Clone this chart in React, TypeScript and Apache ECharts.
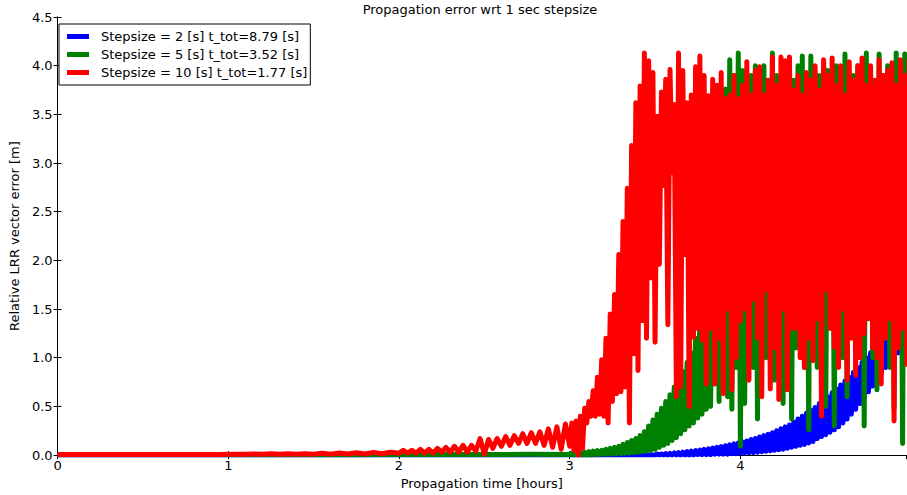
import React, { useEffect, useRef } from "react";
import * as echarts from "echarts";

const TITLE = "Propagation error wrt 1 sec stepsize";
const X_NAME = "Propagation time [hours]";
const Y_NAME = "Relative LRR vector error [m]";
const SERIES_NAMES = [
  "Stepsize = 2 [s] t_tot=8.79 [s]",
  "Stepsize = 5 [s] t_tot=3.52 [s]",
  "Stepsize = 10 [s] t_tot=1.77 [s]",
];
const COLORS = ["#0000ff", "#008000", "#ff0000"];

const X_MIN = 0;
const X_MAX = 4.97;
const X_TICK = 1;
const Y_MIN = 0;
const Y_MAX = 4.5;
const Y_TICK = 0.5;

// ---- Stepsize = 10 s (red) ----
const RED_EARLY_START = 0;
const RED_EARLY_STEP = 0.05;
const redEarly = [
  0.005, 0.005, 0.005, 0.005, 0.005, 0.005, 0.005, 0.005, 0.005, 0.005,
  0.005, 0.006, 0.005, 0.006, 0.005, 0.006, 0.005, 0.007, 0.006, 0.007,
  0.008, 0.01, 0.008, 0.012, 0.009, 0.013, 0.009, 0.014, 0.01, 0.015,
  0.01, 0.02, 0.01, 0.022, 0.012, 0.025, 0.012, 0.028, 0.014, 0.03,
];
const RED_MID_START = 2.0;
const RED_MID_STEP = 0.025;
const redMid = [
  0.02, 0.05, 0.02, 0.05, 0.02, 0.06, 0.02, 0.06, 0.02, 0.07,
  0.03, 0.08, 0.03, 0.09, 0.03, 0.1, 0.03, 0.1, 0.04, 0.17,
  0.01, 0.16, 0.07, 0.17, 0.09, 0.19, 0.1, 0.2, 0.12, 0.22,
  0.12, 0.23, 0.12, 0.24, 0.1, 0.27, 0.08, 0.29, 0.06, 0.32,
];
const RED_LATE_START = 3.0;
const RED_LATE_STEP = 0.0125;
const redLate = [
  0.09, 0.33, 0.05, 0.35, 0.0, 0.4, 0.07, 0.48, 0.33, 0.55,
  0.4, 0.66, 0.4, 0.8, 0.42, 0.98, 0.4, 1.2, 0.33, 1.45,
  0.55, 1.65, 0.63, 2.06, 0.65, 2.4, 0.7, 2.74, 0.33, 3.18,
  1.04, 3.62, 0.87, 3.79, 1.38, 4.13, 1.2, 4.05, 1.82, 3.93,
  1.16, 3.48, 1.96, 3.73, 2.77, 3.86, 1.34, 3.96, 2.9, 3.6,
  0.6, 4.13, 0.7, 3.95, 2.06, 3.62, 0.5, 3.7, 1.21, 3.99,
  1.3, 4.1, 1.18, 3.9, 0.73, 3.69, 1.3, 3.86, 0.73, 3.8,
  1.2, 3.93, 0.63, 3.66, 1.5, 3.7, 0.67, 3.9, 1.0, 3.66,
  1.38, 3.8, 1.5, 4.04, 0.77, 3.7, 1.6, 3.95, 1.2, 3.99,
  0.6, 3.7, 1.7, 3.85, 0.68, 4.09, 1.1, 3.8, 0.57, 4.09,
  1.5, 4.05, 0.67, 4.09, 1.3, 3.75, 1.3, 3.9, 1.0, 3.7,
  0.9, 3.93, 1.2, 3.85, 0.97, 4.0, 1.4, 3.75, 0.4, 4.06,
  1.7, 3.9, 1.3, 4.08, 1.11, 3.8, 0.9, 4.0, 1.5, 3.7,
  0.77, 4.04, 1.2, 3.85, 0.82, 4.0, 1.0, 4.08, 1.25, 3.8,
  1.4, 4.0, 1.1, 3.85, 1.0, 4.06, 0.73, 3.9, 1.2, 3.95,
  1.4, 4.03, 0.35, 3.8, 1.1, 4.06, 1.3, 3.9, 0.93, 4.06,
];

// ---- Stepsize = 5 s (green) ----
const GREEN_EARLY_START = 0;
const GREEN_EARLY_STEP = 0.25;
const greenEarly = [0.003, 0.003, 0.003, 0.003, 0.003, 0.004, 0.004, 0.004, 0.005, 0.005, 0.006, 0.008];
const GREEN_START = 3.0;
const GREEN_STEP = 0.0125;
const greenMain = [
  0.005, 0.02, 0.0, 0.02, 0.0, 0.025, 0.0, 0.03,
  0.0, 0.035, 0.0, 0.04, 0.005, 0.045, 0.005, 0.05,
  0.01, 0.06, 0.01, 0.07, 0.01, 0.08, 0.015, 0.09,
  0.015, 0.11, 0.02, 0.13, 0.02, 0.15, 0.025, 0.17,
  0.03, 0.2, 0.035, 0.24, 0.04, 0.3, 0.05, 0.36,
  0.06, 0.42, 0.08, 0.48, 0.1, 0.55, 0.12, 0.62,
  0.15, 0.7, 0.18, 0.78, 0.22, 0.86, 0.26, 0.95,
  0.3, 1.05, 0.33, 1.2, 0.38, 1.4, 0.42, 1.65,
  0.47, 2.77, 0.5, 2.0, 0.73, 3.0, 0.55, 3.3,
  0.8, 3.76, 0.6, 4.06, 0.47, 3.9, 0.9, 4.13,
  0.09, 3.95, 0.53, 3.6, 1.2, 3.9, 0.9, 4.0,
  0.37, 3.8, 1.5, 4.0, 1.0, 3.85, 1.2, 4.13,
  0.77, 3.9, 1.4, 3.8, 0.53, 3.95, 1.8, 4.0,
  0.37, 3.85, 1.1, 4.0, 1.5, 4.1, 0.9, 3.9,
  0.26, 4.1, 1.6, 3.8, 0.9, 3.9, 1.3, 4.0,
  0.5, 3.95, 1.7, 3.85, 0.3, 4.0, 1.2, 3.9,
  1.0, 4.12, 0.6, 3.8, 1.4, 3.9, 1.1, 4.0,
  1.0, 3.85, 0.3, 4.13, 1.5, 3.9, 1.0, 3.8,
  0.67, 4.12, 1.6, 3.9, 1.2, 4.0, 0.9, 3.85,
  0.48, 4.13, 1.3, 3.9, 0.12, 4.12, 1.4, 4.1,
];

// ---- Stepsize = 2 s (blue) ----
const BLUE_EARLY_START = 0;
const BLUE_EARLY_STEP = 0.25;
const blueEarly = [0.002, 0.002, 0.002, 0.002, 0.002, 0.002, 0.002, 0.002, 0.002, 0.002, 0.002, 0.002, 0.002, 0.002];
const BLUE_START = 3.5;
const BLUE_STEP = 0.0125;
const blueMain = [
  0.0, 0.01, 0.0, 0.012, 0.0, 0.015, 0.0, 0.018,
  0.0, 0.022, 0.0, 0.026, 0.0, 0.03, 0.0, 0.035,
  0.0, 0.04, 0.0, 0.046, 0.005, 0.052, 0.005, 0.058,
  0.005, 0.065, 0.005, 0.072, 0.01, 0.08, 0.01, 0.088,
  0.01, 0.096, 0.01, 0.105, 0.015, 0.115, 0.015, 0.125,
  0.02, 0.135, 0.02, 0.145, 0.025, 0.16, 0.025, 0.17,
  0.03, 0.185, 0.035, 0.2, 0.04, 0.215, 0.045, 0.23,
  0.05, 0.25, 0.055, 0.27, 0.06, 0.29, 0.07, 0.31,
  0.08, 0.34, 0.09, 0.37, 0.1, 0.4, 0.11, 0.43,
  0.125, 0.46, 0.14, 0.49, 0.17, 0.53, 0.19, 0.56,
  0.21, 0.6, 0.235, 0.64, 0.26, 0.68, 0.29, 0.72,
  0.33, 0.76, 0.37, 0.8, 0.42, 0.85, 0.47, 0.9,
  0.53, 0.95, 0.59, 1.0, 0.65, 1.05, 0.71, 1.1,
  0.78, 1.15, 0.84, 1.2, 0.9, 1.25, 0.95, 1.3,
  1.0, 1.35, 1.05, 1.4, 1.1, 1.45, 1.15,
];

function samples(start: number, step: number, values: number[]) {
  return values.map((v, i) => [Number((start + i * step).toFixed(5)), v]);
}

const FONT = "DejaVu Sans";

export default function App() {
  const ref = useRef<HTMLDivElement>(null);
  useEffect(() => {
    if (!ref.current) return;
    const chart = echarts.init(ref.current, undefined, { renderer: "svg" });
    const seriesData = [
      samples(BLUE_EARLY_START, BLUE_EARLY_STEP, blueEarly).concat(samples(BLUE_START, BLUE_STEP, blueMain)),
      samples(GREEN_EARLY_START, GREEN_EARLY_STEP, greenEarly).concat(samples(GREEN_START, GREEN_STEP, greenMain)),
      samples(RED_EARLY_START, RED_EARLY_STEP, redEarly)
        .concat(samples(RED_MID_START, RED_MID_STEP, redMid))
        .concat(samples(RED_LATE_START, RED_LATE_STEP, redLate)),
    ];
    const axisCommon = {
      axisLine: { show: true, lineStyle: { color: "#000", width: 1 } },
      axisTick: { show: true, inside: true, length: 4, lineStyle: { color: "#000", width: 1 } },
      splitLine: { show: false },
    };
    const labelStyle = { fontFamily: FONT, fontSize: 13, color: "#000" };
    chart.setOption({
      animation: false,
      backgroundColor: "#fff",
      title: {
        text: TITLE,
        left: 480,
        top: 3,
        padding: 0,
        textAlign: "center",
        textStyle: { fontFamily: FONT, fontSize: 13, fontWeight: "normal", color: "#000" },
      },
      grid: { left: 53, right: 1, top: 17, bottom: 36, show: false },
      legend: {
        orient: "vertical",
        left: 59,
        top: 24,
        padding: [6, 3, 6, 8],
        itemGap: 5,
        itemWidth: 22,
        itemHeight: 5,
        icon: "rect",
        borderColor: "#000",
        borderWidth: 1,
        borderRadius: 0,
        backgroundColor: "#fff",
        textStyle: { fontFamily: FONT, fontSize: 13, color: "#000", padding: [0, 0, 0, 7] },
        data: SERIES_NAMES,
      },
      xAxis: [
        {
          type: "value",
          min: X_MIN,
          max: X_MAX,
          interval: X_TICK,
          position: "bottom",
          name: X_NAME,
          nameLocation: "middle",
          nameGap: 18,
          nameTextStyle: labelStyle,
          ...axisCommon,
          axisLabel: {
            ...labelStyle,
            margin: 4,
            showMaxLabel: false,
            formatter: (v: number) => (Number.isInteger(v) ? String(v) : ""),
          },
        },
        {
          type: "value",
          min: X_MIN,
          max: X_MAX,
          interval: X_TICK,
          position: "top",
          ...axisCommon,
          axisLabel: { show: false },
        },
      ],
      yAxis: [
        {
          type: "value",
          min: Y_MIN,
          max: Y_MAX,
          interval: Y_TICK,
          position: "left",
          name: Y_NAME,
          nameLocation: "middle",
          nameGap: 25,
          nameTextStyle: labelStyle,
          ...axisCommon,
          axisLabel: { ...labelStyle, margin: 5, formatter: (v: number) => v.toFixed(1) },
        },
        {
          type: "value",
          min: Y_MIN,
          max: Y_MAX,
          interval: Y_TICK,
          position: "right",
          ...axisCommon,
          axisLabel: { show: false },
        },
      ],
      series: SERIES_NAMES.map((name, i) => ({
        name,
        type: "line",
        xAxisIndex: 0,
        yAxisIndex: 0,
        data: seriesData[i],
        showSymbol: false,
        symbol: "none",
        clip: true,
        color: COLORS[i],
        itemStyle: { color: COLORS[i] },
        lineStyle: { width: 5, color: COLORS[i], join: "round", cap: "butt" },
        emphasis: { disabled: true },
      })),
    });
    return () => chart.dispose();
  }, []);
  return (
    <div
      ref={ref}
      style={{ position: "fixed", left: 0, top: 0, width: 907, height: 495 }}
    />
  );
}
